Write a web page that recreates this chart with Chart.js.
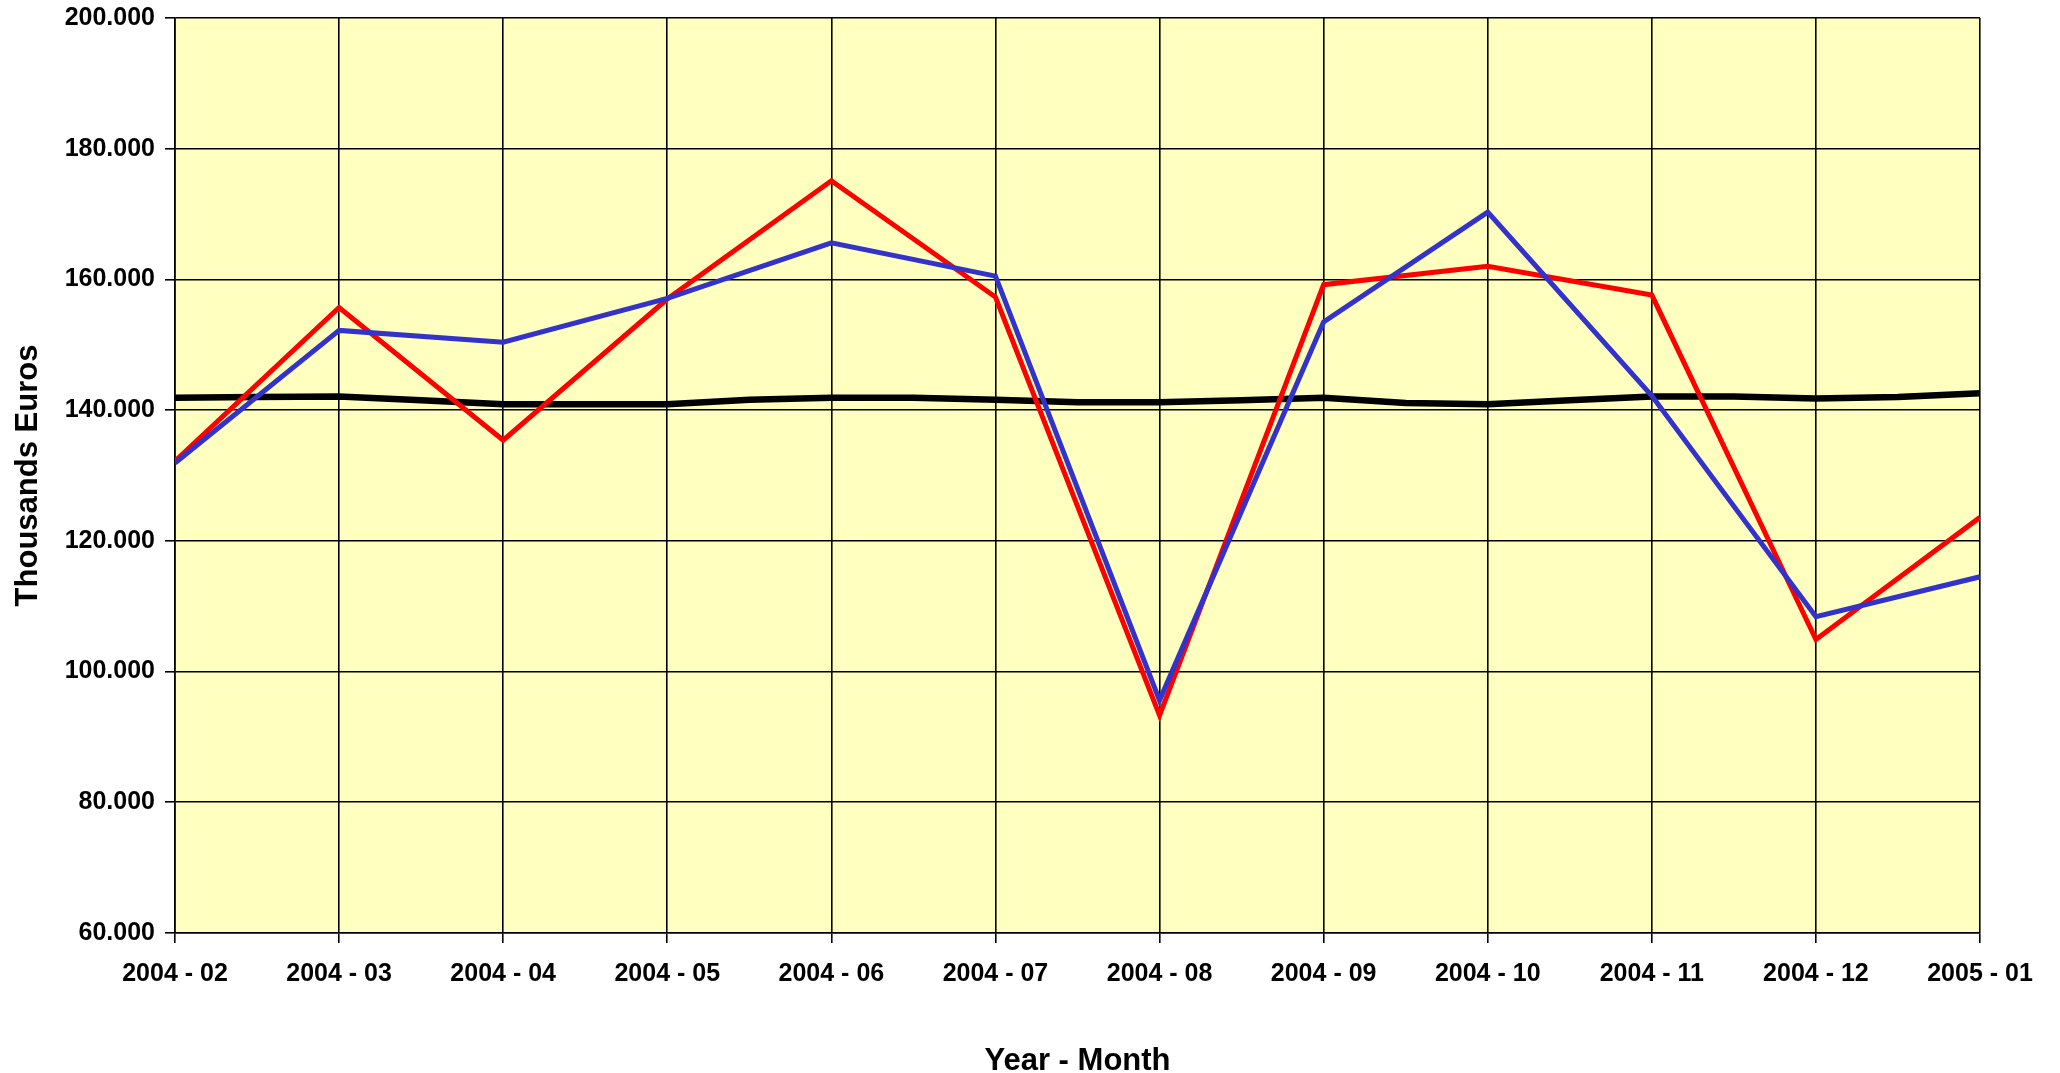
<!DOCTYPE html>
<html>
<head>
<meta charset="utf-8">
<script src="https://cdn.jsdelivr.net/npm/chart.js@4"></script>
<style>
  html, body { margin: 0; padding: 0; background: #ffffff; }
  #wrap { width: 2060px; height: 1073px; }
</style>
</head>
<body>
<div id="wrap"><canvas id="c" width="2060" height="1073"></canvas></div>
<script>
// ---- data ----
const categories = ["2004 - 02", "2004 - 03", "2004 - 04", "2004 - 05", "2004 - 06", "2004 - 07",
                    "2004 - 08", "2004 - 09", "2004 - 10", "2004 - 11", "2004 - 12", "2005 - 01"];
const redValues  = [132.2, 155.7, 135.4, 157.0, 175.1, 157.3, 93.3, 159.2, 162.0, 157.6, 104.9, 123.6];
const blueValues = [131.9, 152.2, 150.4, 157.1, 165.6, 160.5, 95.6, 153.5, 170.3, 142.2, 108.4, 114.5];
// black line: one value every half month, from 2004 - 02 to 2005 - 01
const blackValues = [141.9, 142.0, 142.1, 141.5, 140.9, 140.9, 140.9, 141.6, 141.9, 141.9, 141.6, 141.2,
                     141.2, 141.5, 141.9, 141.1, 140.9, 141.5, 142.1, 142.1, 141.8, 142.0, 142.6];
const yTicks = [60, 80, 100, 120, 140, 160, 180, 200];
const yTitle = "Thousands Euros";
const xTitle = "Year - Month";

const FONT = "'Liberation Sans', Arial, sans-serif";

const bgPlugin = {
  id: 'plotBg',
  beforeDraw(chart) {
    const a = chart.chartArea, ctx = chart.ctx;
    ctx.save();
    ctx.fillStyle = '#FFFFC0';
    ctx.fillRect(a.left, a.top, a.right - a.left, a.bottom - a.top);
    ctx.restore();
  }
};

new Chart(document.getElementById('c'), {
  type: 'line',
  data: {
    datasets: [
      { data: blueValues.map((v, i) => ({ x: i, y: v })), borderColor: '#3333CC', borderWidth: 5,
        pointRadius: 0, tension: 0, order: 1 },
      { data: redValues.map((v, i) => ({ x: i, y: v })), borderColor: '#FF0000', borderWidth: 5,
        pointRadius: 0, tension: 0, order: 2 },
      { data: blackValues.map((v, i) => ({ x: i / 2, y: v })), borderColor: '#000000', borderWidth: 6.5,
        pointRadius: 0, tension: 0, order: 3 }
    ]
  },
  options: {
    responsive: false,
    animation: false,
    events: [],
    layout: { padding: { top: 18, right: 80, bottom: 0, left: 0 } },
    plugins: { legend: { display: false }, tooltip: { enabled: false } },
    scales: {
      x: {
        type: 'linear',
        min: 0, max: categories.length - 1,
        afterBuildTicks(scale) { scale.ticks = categories.map((c, i) => ({ value: i })); },
        afterFit(scale) { scale.height = 140; },
        ticks: {
          autoSkip: false, maxRotation: 0, padding: 16,
          color: '#000', font: { family: FONT, size: 25, weight: 'bold' },
          callback: (v) => categories[v]
        },
        grid: { color: '#000', lineWidth: 1.6, tickLength: 10, drawTicks: true, tickColor: '#000' },
        border: { display: true, color: '#000', width: 1.6 },
        title: {
          display: true, text: xTitle, color: '#000',
          font: { family: FONT, size: 31, weight: 'bold', lineHeight: 1.0 },
          padding: { top: 0, bottom: -4 }
        }
      },
      y: {
        min: 60, max: 200,
        afterBuildTicks(scale) { scale.ticks = yTicks.map(v => ({ value: v })); },
        afterFit(scale) { scale.width = 175; },
        ticks: {
          padding: 10, color: '#000', font: { family: FONT, size: 25, weight: 'bold', lineHeight: 0.6 },
          callback: (v) => v + '.000'
        },
        grid: { color: '#000', lineWidth: 1.6, tickLength: 10, drawTicks: true, tickColor: '#000' },
        border: { display: true, color: '#000', width: 1.6 },
        title: {
          display: true, text: yTitle, color: '#000',
          font: { family: FONT, size: 31, weight: 'bold', lineHeight: 1.0 },
          padding: { top: 13, bottom: 0 }
        }
      }
    }
  },
  plugins: [bgPlugin]
});
</script>
</body>
</html>
